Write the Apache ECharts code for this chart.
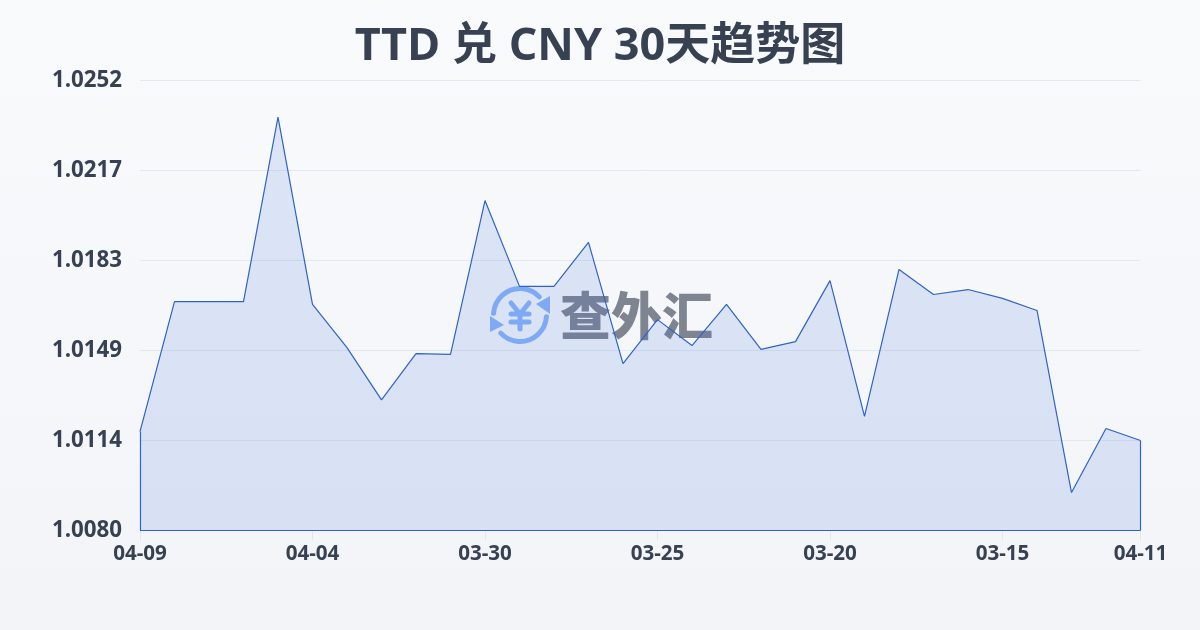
<!DOCTYPE html>
<html>
<head>
<meta charset="utf-8">
<style>html,body{margin:0;padding:0;width:1200px;height:630px;overflow:hidden}#c{width:1200px;height:630px}</style>
<script src="https://cdn.jsdelivr.net/npm/echarts@6/dist/echarts.min.js"></script>
</head>
<body>
<div id="c"></div>
<script>
const titleText = 'TTD 兑 CNY 30天趋势图';
const categories = ['04-09','04-08','04-07','04-06','04-05','04-04','04-03','04-02','04-01','03-31','03-30','03-29','03-28','03-27','03-26','03-25','03-24','03-23','03-22','03-21','03-20','03-19','03-18','03-17','03-16','03-15','03-14','03-13','03-12','04-11'];
const values = [1.01178,1.01675,1.01675,1.01675,1.02380,1.01664,1.01499,1.01299,1.01476,1.01473,1.02061,1.01733,1.01733,1.01901,1.01438,1.01606,1.01507,1.01664,1.01492,1.01522,1.01755,1.01236,1.01798,1.01702,1.01721,1.01687,1.01641,1.00945,1.01190,1.01144];
const yTicks = [1.008,1.01144,1.01488,1.01832,1.02176,1.0252];
const yLabels = ['1.0080','1.0114','1.0149','1.0183','1.0217','1.0252'];
const xLabelIndex = [0,5,10,15,20,25,29];
const yMin = 1.008, yMax = 1.0252;
const FONT = '"Open Sans","Noto Sans CJK SC",sans-serif';
const LINE = '#2f63c9';
const LOGO = '#8ab4f8';

const logoLine = (shape) => ({type:'polyline', z:-1, shape:{points:shape}, style:{stroke:LOGO, lineWidth:5, fill:null, lineCap:'round', lineJoin:'round'}, silent:true});
const logoArc = (a,b) => ({type:'arc', z:-1, shape:{cx:520,cy:315,r:26.5,startAngle:a,endAngle:b,clockwise:true}, style:{stroke:LOGO, lineWidth:5, fill:null, lineCap:'round'}, silent:true});
const logoTri = (pts) => ({type:'polygon', z:-1, shape:{points:pts}, style:{fill:LOGO}, silent:true});

const chart = echarts.init(document.getElementById('c'), null, {renderer:'canvas'});
chart.setOption({
  animation:false,
  backgroundColor:new echarts.graphic.LinearGradient(0,0,0,1,[{offset:0,color:'#f8fafc'},{offset:1,color:'#f2f4f7'}]),
  title:{text:titleText,left:'center',top:20,textStyle:{fontFamily:FONT,fontSize:45,fontWeight:'bold',color:'#374151'}},
  grid:{left:140,right:59.5,top:80.5,bottom:99.5,containLabel:false},
  xAxis:{
    type:'category',boundaryGap:false,data:categories,
    axisLine:{show:false},
    axisTick:{show:true,length:10,alignWithLabel:true,interval:(i)=>xLabelIndex.includes(i),lineStyle:{color:'#e2e8f0',width:1}},
    axisLabel:{interval:(i)=>xLabelIndex.includes(i),margin:13,fontFamily:FONT,fontSize:20.6,fontWeight:'bold',color:'#374151',hideOverlap:false,showMinLabel:true,showMaxLabel:true},
    splitLine:{show:false}
  },
  yAxis:{
    type:'value',min:yMin,max:yMax,
    axisLine:{show:false},axisTick:{show:false,customValues:yTicks},
    axisLabel:{customValues:yTicks,margin:18,fontFamily:FONT,fontSize:22.3,fontWeight:'bold',color:'#374151',
      formatter:(v)=>yLabels[yTicks.findIndex(t=>Math.abs(t-v)<1e-6)],padding:[0,0,7,0]},
    splitLine:{show:true,lineStyle:{color:'#e2e8f0',width:1}}
  },
  graphic:[
    logoArc(Math.PI*1.02,Math.PI*1.76),
    logoArc(Math.PI*0.02,Math.PI*0.76),
    logoTri([[536,304],[550,296],[550,314]]),
    logoTri([[490,316],[504,325],[490,332]]),
    logoLine([[511,303],[520,314],[529,303]]),
    logoLine([[511,314],[529,314]]),
    logoLine([[511,322],[529,322]]),
    logoLine([[520,314],[520,329]]),
    {type:'text',z:-1,silent:true,style:{x:560,y:316,text:'查外汇',fontFamily:'"Noto Sans CJK SC",sans-serif',fontWeight:900,fontSize:51,fill:'#7f8590',textVerticalAlign:'middle'}}
  ],
  series:[{
    type:'line',data:values,symbol:'none',smooth:false,
    lineStyle:{color:LINE,width:1.2},
    areaStyle:{color:'rgba(59,105,220,0.2)',origin:'start'},
    markLine:{silent:true,symbol:'none',label:{show:false},animation:false,
      lineStyle:{color:LINE,width:1.2,type:'solid'},
      data:[
        [{coord:[0,yMin]},{coord:[0,values[0]]}],
        [{coord:[0,yMin]},{coord:[categories.length-1,yMin]}],
        [{coord:[categories.length-1,yMin]},{coord:[categories.length-1,values[values.length-1]]}]
      ]}
  }]
});
</script>
</body>
</html>
